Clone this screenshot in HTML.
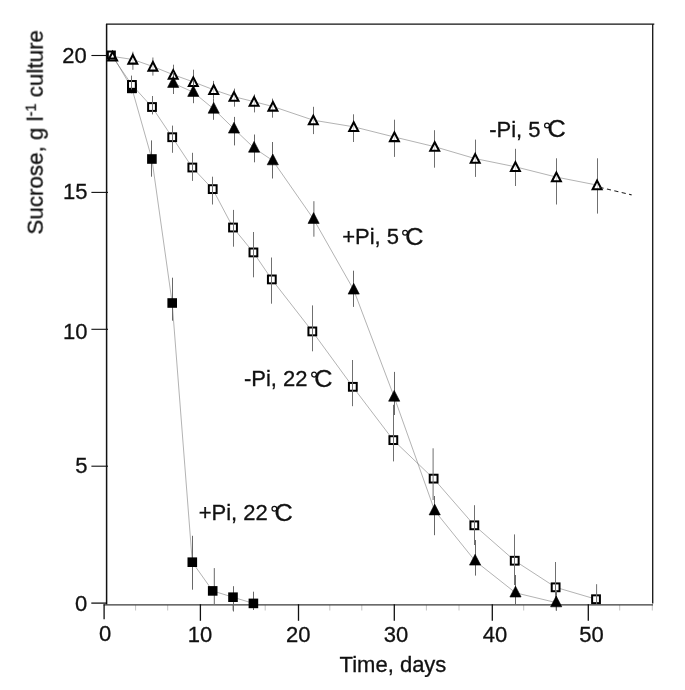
<!DOCTYPE html>
<html><head><meta charset="utf-8"><title>Sucrose consumption</title>
<style>
html,body{margin:0;padding:0;background:#fff;}
body{width:685px;height:690px;overflow:hidden;font-family:"Liberation Sans",sans-serif;}
svg{display:block;}
</style></head><body>
<svg width="685" height="690" viewBox="0 0 685 690">
<rect width="685" height="690" fill="#fff"/>
<g stroke="#c4c4c4" stroke-width="1">
<line x1="135.6" y1="605.0" x2="135.6" y2="610.5"/>
<line x1="167.7" y1="605.0" x2="167.7" y2="610.5"/>
<line x1="232.5" y1="605.0" x2="232.5" y2="610.5"/>
<line x1="265.2" y1="605.0" x2="265.2" y2="610.5"/>
<line x1="329.8" y1="605.0" x2="329.8" y2="610.5"/>
<line x1="361.8" y1="605.0" x2="361.8" y2="610.5"/>
<line x1="426.4" y1="605.0" x2="426.4" y2="610.5"/>
<line x1="459.0" y1="605.0" x2="459.0" y2="610.5"/>
<line x1="523.7" y1="605.0" x2="523.7" y2="610.5"/>
<line x1="555.7" y1="605.0" x2="555.7" y2="610.5"/>
<line x1="619.7" y1="605.0" x2="619.7" y2="610.5"/>
<line x1="652.3" y1="605.0" x2="652.3" y2="610.5"/>
</g>
<g fill="none" stroke="#666" stroke-width="0.5">
<polyline points="112.6,56.4 132.8,59.5 152.9,66.5 173.2,74.7 193.3,81.9 213.7,89.8 234.0,96.7 254.1,101.7 272.9,106.5 313.3,120.2 353.7,126.8 394.4,137.0 434.7,146.7 475.2,158.6 515.4,166.8 556.4,177.1 597.1,185.1"/>
<polyline points="112.4,55.0"/>
<polyline points="173.2,83.2 193.3,92.2 213.7,109.0 234.0,128.9 254.1,148.0 272.8,160.6 313.6,219.2 353.7,289.9 394.2,397.0 434.7,510.7 475.1,560.9 515.5,592.8 556.2,602.6"/>
<polyline points="111.3,55.0 131.9,84.9 152.0,107.0 172.2,137.2 192.3,167.5 212.7,189.1 233.0,227.5 253.4,252.4 271.8,279.4 312.3,331.4 352.8,386.8 393.3,440.1 433.6,478.6 474.3,525.3 514.7,560.7 555.6,587.3 596.0,599.2"/>
<polyline points="112.4,55.0 131.9,88.3 151.9,159.0 172.2,303.0 192.3,562.2 212.7,590.9 233.0,597.2 253.4,603.4"/>
</g>
<g stroke="#111" fill="none">
<line x1="106.0" y1="24.1" x2="654.3" y2="24.1" stroke-width="1.4"/>
<line x1="652.7" y1="24.1" x2="652.7" y2="603.5" stroke-width="1.35" stroke="#1a1a1a"/>
<line x1="106.6" y1="24.1" x2="106.6" y2="604.4" stroke-width="1.5"/>
<line x1="103.6" y1="604.9" x2="653.0" y2="604.9" stroke-width="1.25" stroke="#3a3a3a"/>
<line x1="91.3" y1="603.1" x2="106.6" y2="603.1" stroke-width="1.2" stroke="#000"/>
<line x1="91.4" y1="466.2" x2="108.0" y2="466.2" stroke-width="1.1"/>
<line x1="91.4" y1="329.3" x2="108.0" y2="329.3" stroke-width="1.1"/>
<line x1="91.4" y1="192.4" x2="108.0" y2="192.4" stroke-width="1.1"/>
<line x1="91.4" y1="55.5" x2="108.0" y2="55.5" stroke-width="1.1"/>
<line x1="104.1" y1="604.2" x2="104.1" y2="619.3" stroke-width="1.3"/>
<line x1="200.4" y1="604.2" x2="200.4" y2="620.8" stroke-width="1.3"/>
<line x1="298.5" y1="604.2" x2="298.5" y2="620.8" stroke-width="1.3"/>
<line x1="394.3" y1="604.2" x2="394.3" y2="620.8" stroke-width="1.3"/>
<line x1="492.3" y1="604.2" x2="492.3" y2="620.8" stroke-width="1.3"/>
<line x1="588.3" y1="604.2" x2="588.3" y2="620.8" stroke-width="1.3"/>
</g>
<rect x="127.10" y="83.50" width="9.6" height="9.6" fill="#000"/>
<rect x="107.83" y="51.52" width="7.0" height="7.0" fill="#fff" stroke="#000" stroke-width="2.0"/>
<rect x="128.03" y="81.03" width="7.8" height="7.8" fill="#fff" stroke="#000" stroke-width="2.0"/>
<rect x="148.12" y="103.12" width="7.8" height="7.8" fill="#fff" stroke="#000" stroke-width="2.0"/>
<rect x="168.32" y="133.32" width="7.8" height="7.8" fill="#fff" stroke="#000" stroke-width="2.0"/>
<rect x="188.43" y="163.62" width="7.8" height="7.8" fill="#fff" stroke="#000" stroke-width="2.0"/>
<rect x="208.82" y="185.22" width="7.8" height="7.8" fill="#fff" stroke="#000" stroke-width="2.0"/>
<rect x="229.12" y="223.62" width="7.8" height="7.8" fill="#fff" stroke="#000" stroke-width="2.0"/>
<rect x="249.53" y="248.53" width="7.8" height="7.8" fill="#fff" stroke="#000" stroke-width="2.0"/>
<rect x="267.93" y="275.52" width="7.8" height="7.8" fill="#fff" stroke="#000" stroke-width="2.0"/>
<rect x="308.43" y="327.52" width="7.8" height="7.8" fill="#fff" stroke="#000" stroke-width="2.0"/>
<rect x="348.93" y="382.93" width="7.8" height="7.8" fill="#fff" stroke="#000" stroke-width="2.0"/>
<rect x="389.43" y="436.23" width="7.8" height="7.8" fill="#fff" stroke="#000" stroke-width="2.0"/>
<rect x="429.73" y="474.73" width="7.8" height="7.8" fill="#fff" stroke="#000" stroke-width="2.0"/>
<rect x="470.43" y="521.42" width="7.8" height="7.8" fill="#fff" stroke="#000" stroke-width="2.0"/>
<rect x="510.83" y="556.83" width="7.8" height="7.8" fill="#fff" stroke="#000" stroke-width="2.0"/>
<rect x="551.73" y="583.42" width="7.8" height="7.8" fill="#fff" stroke="#000" stroke-width="2.0"/>
<rect x="592.12" y="595.33" width="7.8" height="7.8" fill="#fff" stroke="#000" stroke-width="2.0"/>
<g stroke="#707070" stroke-width="1">
<line x1="131.5" y1="75.6" x2="131.5" y2="93.3"/>
<line x1="152.5" y1="96.0" x2="152.5" y2="114.4"/>
<line x1="172.5" y1="125.6" x2="172.5" y2="152.8"/>
<line x1="192.5" y1="152.8" x2="192.5" y2="180.9"/>
<line x1="212.5" y1="176.7" x2="212.5" y2="204.5"/>
<line x1="233.5" y1="209.9" x2="233.5" y2="246.7"/>
<line x1="253.5" y1="232.0" x2="253.5" y2="277.3"/>
<line x1="271.5" y1="257.5" x2="271.5" y2="303.7"/>
<line x1="312.5" y1="305.4" x2="312.5" y2="351.3"/>
<line x1="352.5" y1="360.0" x2="352.5" y2="406.2"/>
<line x1="393.5" y1="404.8" x2="393.5" y2="461.4"/>
<line x1="433.1" y1="448.3" x2="433.1" y2="500.0"/>
<line x1="474.5" y1="505.2" x2="474.5" y2="545.0"/>
<line x1="514.5" y1="534.4" x2="514.5" y2="585.0"/>
<line x1="555.5" y1="562.0" x2="555.5" y2="604.0"/>
<line x1="596.6" y1="584.2" x2="596.6" y2="604.0"/>
</g>
<g stroke="#707070" stroke-width="1">
<line x1="132.9" y1="51.7" x2="132.9" y2="69.8"/>
<line x1="152.9" y1="57.5" x2="152.9" y2="75.6"/>
<line x1="173.5" y1="64.7" x2="173.5" y2="84.0"/>
<line x1="193.5" y1="69.7" x2="193.5" y2="92.0"/>
<line x1="213.5" y1="80.9" x2="213.5" y2="98.3"/>
<line x1="234.5" y1="88.6" x2="234.5" y2="106.7"/>
<line x1="254.5" y1="94.4" x2="254.5" y2="112.4"/>
<line x1="272.5" y1="98.6" x2="272.5" y2="117.7"/>
<line x1="313.5" y1="106.8" x2="313.5" y2="134.1"/>
<line x1="353.5" y1="114.3" x2="353.5" y2="142.0"/>
<line x1="394.5" y1="119.7" x2="394.5" y2="156.9"/>
<line x1="434.5" y1="130.2" x2="434.5" y2="167.7"/>
<line x1="475.5" y1="139.6" x2="475.5" y2="176.9"/>
<line x1="515.5" y1="148.8" x2="515.5" y2="186.0"/>
<line x1="556.5" y1="158.3" x2="556.5" y2="204.5"/>
<line x1="597.5" y1="158.3" x2="597.5" y2="213.6"/>
</g>
<polygon points="112.60,51.90 117.05,60.50 108.15,60.50" fill="#fff" fill-opacity="0.00" stroke="#000" stroke-width="2.05" stroke-linejoin="miter"/>
<polygon points="132.80,55.00 137.25,63.60 128.35,63.60" fill="#fff" fill-opacity="0.72" stroke="#000" stroke-width="2.05" stroke-linejoin="miter"/>
<polygon points="152.90,62.00 157.35,70.60 148.45,70.60" fill="#fff" fill-opacity="0.72" stroke="#000" stroke-width="2.05" stroke-linejoin="miter"/>
<polygon points="173.20,70.20 177.65,78.80 168.75,78.80" fill="#fff" fill-opacity="0.72" stroke="#000" stroke-width="2.05" stroke-linejoin="miter"/>
<polygon points="193.30,77.40 197.75,86.00 188.85,86.00" fill="#fff" fill-opacity="0.72" stroke="#000" stroke-width="2.05" stroke-linejoin="miter"/>
<polygon points="213.70,85.30 218.15,93.90 209.25,93.90" fill="#fff" fill-opacity="0.72" stroke="#000" stroke-width="2.05" stroke-linejoin="miter"/>
<polygon points="234.00,92.20 238.45,100.80 229.55,100.80" fill="#fff" fill-opacity="0.72" stroke="#000" stroke-width="2.05" stroke-linejoin="miter"/>
<polygon points="254.10,97.20 258.55,105.80 249.65,105.80" fill="#fff" fill-opacity="0.72" stroke="#000" stroke-width="2.05" stroke-linejoin="miter"/>
<polygon points="272.90,102.00 277.35,110.60 268.45,110.60" fill="#fff" fill-opacity="0.72" stroke="#000" stroke-width="2.05" stroke-linejoin="miter"/>
<polygon points="313.30,115.70 317.75,124.30 308.85,124.30" fill="#fff" fill-opacity="0.72" stroke="#000" stroke-width="2.05" stroke-linejoin="miter"/>
<polygon points="353.70,122.30 358.15,130.90 349.25,130.90" fill="#fff" fill-opacity="0.72" stroke="#000" stroke-width="2.05" stroke-linejoin="miter"/>
<polygon points="394.40,132.50 398.85,141.10 389.95,141.10" fill="#fff" fill-opacity="0.72" stroke="#000" stroke-width="2.05" stroke-linejoin="miter"/>
<polygon points="434.70,142.20 439.15,150.80 430.25,150.80" fill="#fff" fill-opacity="0.72" stroke="#000" stroke-width="2.05" stroke-linejoin="miter"/>
<polygon points="475.20,154.10 479.65,162.70 470.75,162.70" fill="#fff" fill-opacity="0.72" stroke="#000" stroke-width="2.05" stroke-linejoin="miter"/>
<polygon points="515.40,162.30 519.85,170.90 510.95,170.90" fill="#fff" fill-opacity="0.72" stroke="#000" stroke-width="2.05" stroke-linejoin="miter"/>
<polygon points="556.40,172.60 560.85,181.20 551.95,181.20" fill="#fff" fill-opacity="0.72" stroke="#000" stroke-width="2.05" stroke-linejoin="miter"/>
<polygon points="597.10,180.60 601.55,189.20 592.65,189.20" fill="#fff" fill-opacity="0.72" stroke="#000" stroke-width="2.05" stroke-linejoin="miter"/>
<g stroke="#686868" stroke-width="1">
<line x1="173.5" y1="72.0" x2="173.5" y2="94.0"/>
<line x1="193.5" y1="80.0" x2="193.5" y2="103.2"/>
<line x1="213.5" y1="98.3" x2="213.5" y2="119.8"/>
<line x1="234.5" y1="116.9" x2="234.5" y2="145.4"/>
<line x1="254.5" y1="134.5" x2="254.5" y2="162.3"/>
<line x1="272.5" y1="142.0" x2="272.5" y2="178.5"/>
<line x1="313.9" y1="201.2" x2="313.9" y2="236.7"/>
<line x1="353.5" y1="270.7" x2="353.5" y2="306.9"/>
<line x1="394.5" y1="371.9" x2="394.5" y2="415.0"/>
<line x1="434.5" y1="496.0" x2="434.5" y2="535.2"/>
<line x1="475.5" y1="540.0" x2="475.5" y2="575.6"/>
<line x1="515.5" y1="575.0" x2="515.5" y2="604.8"/>
<line x1="556.5" y1="590.0" x2="556.5" y2="610.8"/>
</g>
<g stroke="#686868" stroke-width="1">
<line x1="151.5" y1="140.4" x2="151.5" y2="176.7"/>
<line x1="172.5" y1="277.7" x2="172.5" y2="320.7"/>
<line x1="192.5" y1="535.8" x2="192.5" y2="589.7"/>
<line x1="214.3" y1="568.1" x2="214.3" y2="604.1"/>
<line x1="233.5" y1="586.2" x2="233.5" y2="611.5"/>
<line x1="253.5" y1="591.7" x2="253.5" y2="610.0"/>
</g>
<rect x="127.10" y="89.48" width="9.6" height="3.62" fill="#000"/>
<rect x="147.10" y="154.20" width="9.6" height="9.6" fill="#000"/>
<rect x="167.40" y="298.20" width="9.6" height="9.6" fill="#000"/>
<rect x="187.50" y="557.40" width="9.6" height="9.6" fill="#000"/>
<rect x="207.90" y="586.10" width="9.6" height="9.6" fill="#000"/>
<rect x="228.20" y="592.40" width="9.6" height="9.6" fill="#000"/>
<rect x="248.60" y="598.60" width="9.6" height="9.6" fill="#000"/>
<polygon points="173.20,76.60 178.80,87.40 167.60,87.40" fill="#000" stroke="#000" stroke-width="0.6" stroke-linejoin="miter"/>
<polygon points="193.30,85.60 198.90,96.40 187.70,96.40" fill="#000" stroke="#000" stroke-width="0.6" stroke-linejoin="miter"/>
<polygon points="213.70,102.40 219.30,113.20 208.10,113.20" fill="#000" stroke="#000" stroke-width="0.6" stroke-linejoin="miter"/>
<polygon points="234.00,122.30 239.60,133.10 228.40,133.10" fill="#000" stroke="#000" stroke-width="0.6" stroke-linejoin="miter"/>
<polygon points="254.10,141.40 259.70,152.20 248.50,152.20" fill="#000" stroke="#000" stroke-width="0.6" stroke-linejoin="miter"/>
<polygon points="272.80,154.00 278.40,164.80 267.20,164.80" fill="#000" stroke="#000" stroke-width="0.6" stroke-linejoin="miter"/>
<polygon points="313.60,212.60 319.20,223.40 308.00,223.40" fill="#000" stroke="#000" stroke-width="0.6" stroke-linejoin="miter"/>
<polygon points="353.70,283.30 359.30,294.10 348.10,294.10" fill="#000" stroke="#000" stroke-width="0.6" stroke-linejoin="miter"/>
<polygon points="394.20,390.40 399.80,401.20 388.60,401.20" fill="#000" stroke="#000" stroke-width="0.6" stroke-linejoin="miter"/>
<polygon points="434.70,504.10 440.30,514.90 429.10,514.90" fill="#000" stroke="#000" stroke-width="0.6" stroke-linejoin="miter"/>
<polygon points="475.10,554.30 480.70,565.10 469.50,565.10" fill="#000" stroke="#000" stroke-width="0.6" stroke-linejoin="miter"/>
<polygon points="515.50,586.20 521.10,597.00 509.90,597.00" fill="#000" stroke="#000" stroke-width="0.6" stroke-linejoin="miter"/>
<polygon points="556.20,596.00 561.80,606.80 550.60,606.80" fill="#000" stroke="#000" stroke-width="0.6" stroke-linejoin="miter"/>
<line x1="599.5" y1="187.3" x2="631.6" y2="194.9" stroke="#222" stroke-width="1.1" stroke-dasharray="4.2,3.4"/>
<g font-family="'Liberation Sans', sans-serif" font-size="22" fill="#111" stroke="#111" stroke-width="0.3" style="opacity:0.999">
<text x="87.3" y="611.0" text-anchor="end">0</text>
<text x="87.5" y="472.8" text-anchor="end">5</text>
<text x="87.5" y="338.8" text-anchor="end">10</text>
<text x="87.5" y="198.8" text-anchor="end">15</text>
<text x="86.7" y="63.1" text-anchor="end">20</text>
<text x="105.0" y="641.1" text-anchor="middle">0</text>
<text x="199.9" y="642.3" text-anchor="middle">10</text>
<text x="298.3" y="642.3" text-anchor="middle">20</text>
<text x="395.9" y="642.3" text-anchor="middle">30</text>
<text x="495.0" y="642.3" text-anchor="middle">40</text>
<text x="591.6" y="642.3" text-anchor="middle">50</text>
<text x="339.6" y="671.6">Time, days</text>
<text transform="translate(42.7,234.6) rotate(-90)" font-size="22.4">Sucrose, g l<tspan font-size="14.5" dy="-7.5">-1</tspan><tspan dy="7.5"> culture</tspan></text>
<text x="489.2" y="137.0">-Pi, 5</text>
<circle cx="547.00" cy="125.50" r="2.4" fill="none" stroke="#111" stroke-width="1.25"/>
<text transform="translate(547.45,137.45) scale(1.147,1.05)" x="0" y="0">C</text>
<text x="342.2" y="244.3">+Pi, 5</text>
<circle cx="405.10" cy="232.80" r="2.4" fill="none" stroke="#111" stroke-width="1.25"/>
<text transform="translate(405.35,244.75) scale(1.147,1.05)" x="0" y="0">C</text>
<text x="243.9" y="386.1">-Pi, 22</text>
<circle cx="314.10" cy="374.60" r="2.4" fill="none" stroke="#111" stroke-width="1.25"/>
<text transform="translate(314.25,386.55) scale(1.147,1.05)" x="0" y="0">C</text>
<text x="198.7" y="520.2">+Pi, 22</text>
<circle cx="274.40" cy="508.70" r="2.4" fill="none" stroke="#111" stroke-width="1.25"/>
<text transform="translate(274.55,520.65) scale(1.147,1.05)" x="0" y="0">C</text>
</g>
</svg>
</body></html>
